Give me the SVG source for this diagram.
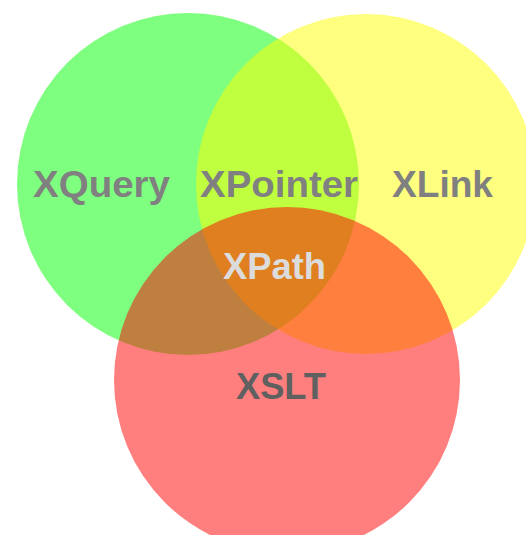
<svg xmlns="http://www.w3.org/2000/svg" width="526" height="535" viewBox="0 0 526 535">
<style>
.set{fill-opacity:0.5}
.lbl{font-family:"Liberation Sans","DejaVu Sans",Arial,sans-serif;font-weight:bold;font-size:37px;fill:#808080}
</style>
<rect width="526" height="535" fill="#ffffff"/>
<g id="xquery">
<circle class="set" cx="188" cy="184" r="171" fill="#00ff00"/>
</g>
<g id="xlink">
<circle class="set" cx="366" cy="184" r="170" fill="#ffff00"/>
</g>
<g id="xslt">
<circle class="set" cx="287" cy="380" r="173" fill="#ff0000"/>
</g>
<g id="labels">
<text id="label-xquery" class="lbl" x="33" y="197" textLength="137" lengthAdjust="spacingAndGlyphs">XQuery</text>
<text id="label-xpointer" class="lbl" x="200" y="197" textLength="158" lengthAdjust="spacingAndGlyphs">XPointer</text>
<text id="label-xlink" class="lbl" x="392" y="197" textLength="101" lengthAdjust="spacingAndGlyphs">XLink</text>
<text id="label-xpath" class="lbl" x="223" y="279" textLength="103" lengthAdjust="spacingAndGlyphs" style="fill:#dcdcdc">XPath</text>
<text id="label-xslt" class="lbl" x="236" y="399" textLength="90" lengthAdjust="spacingAndGlyphs" style="fill:#606060">XSLT</text>
</g>
</svg>
